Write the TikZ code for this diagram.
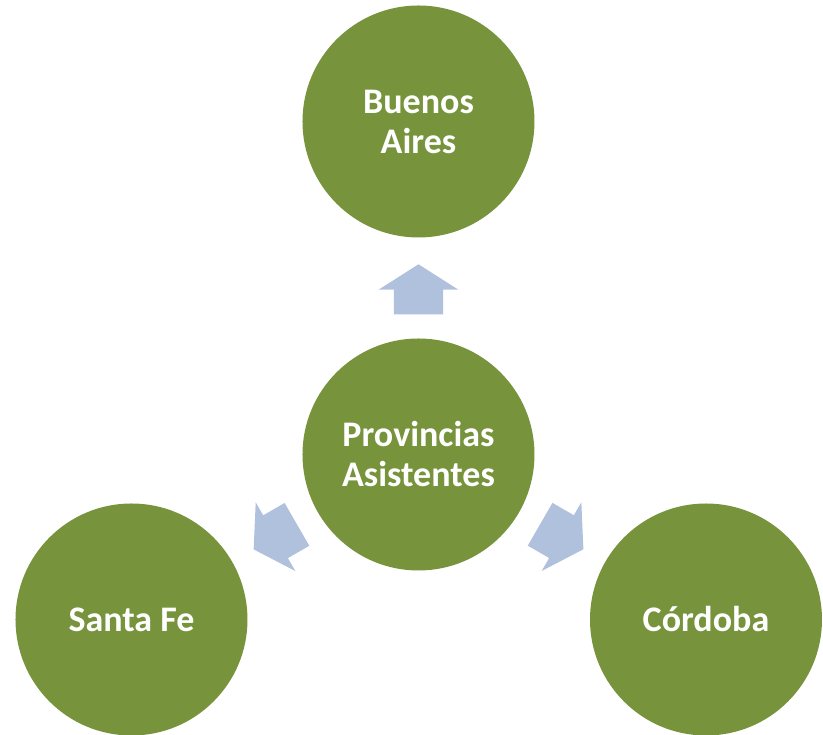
\documentclass[tikz,border=0pt]{standalone}
\usepackage{fontspec}
\setmainfont{Carlito}
\usepackage{tikz}
\usetikzlibrary{calc,shapes.arrows}

\definecolor{olivo}{RGB}{119,147,60}
\definecolor{celeste}{RGB}{176,193,221}

\begin{document}
\begin{tikzpicture}[
    x=1pt, y=1pt,
    prov/.style={circle, fill=olivo, minimum size=232pt, inner sep=0pt,
        text=white, align=center, font=\bfseries\fontsize{36}{40}\selectfont},
    flecha/.style={single arrow, fill=celeste, draw=none, anchor=tail,
        minimum height=50pt, inner xsep=0pt, inner ysep=24.5pt,
        single arrow head extend=15pt, single arrow tip angle=115}
]

    % Frame
    \useasboundingbox (-418.5,-280.5) rectangle (404.5,454.5);

    % Circles
    \node[prov] (P) at (0, 0) {Provincias\\Asistentes};
    \node[prov] (BA) at (0, 333) {Buenos\\Aires};
    \node[prov] (SF) at (-287, -165) {Santa Fe};
    \node[prov] (C) at (287.5, -165) {Córdoba};

    % Block arrows from the centre outwards
    \foreach \t/\a in {BA/90, SF/210, C/330} {
        \node[flecha, rotate=\a] (f\t) at ($(P.center)!140pt!(\t.center)$) {};
    }

\end{tikzpicture}
\end{document}
